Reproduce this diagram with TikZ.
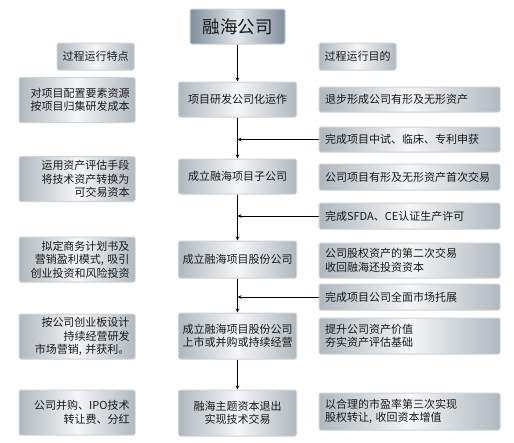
\documentclass[tikz,border=0pt]{standalone}
\usepackage{fontspec}
\newfontfamily\cjk{Noto Sans CJK SC}
\usetikzlibrary{arrows.meta}
\definecolor{boxedge}{RGB}{176,184,191}
\definecolor{boxmid}{RGB}{244,246,247}
\definecolor{boxline}{RGB}{205,211,216}
\definecolor{topedge}{RGB}{128,143,156}
\definecolor{topmid}{RGB}{226,231,235}
\tikzset{
  box/.style={draw=boxline, line width=1pt, rounded corners=1.5pt,
    left color=boxedge, right color=boxedge, middle color=boxmid,
    inner sep=0pt, font=\cjk\fontsize{11}{13.5}\selectfont, text=black!90},
  lbox/.style={box, minimum width=116pt, minimum height=45pt, align=right, text width=105pt},
  cbox/.style={box, minimum width=118pt, align=center},
  rbox/.style={box, minimum width=181pt, align=left, text width=169pt},
  hbox/.style={box, minimum width=77pt, minimum height=27pt},
  topbox/.style={draw=boxline, line width=1pt, rounded corners=1.5pt,
    left color=topedge, right color=topedge, middle color=topmid,
    minimum width=95pt, minimum height=35pt, inner sep=0pt,
    font=\cjk\fontsize{17.5}{20}\selectfont, text=black!90},
  arr/.style={-{Stealth[length=4pt,width=3.5pt]}, line width=0.8pt, black},
}
\begin{document}
\begin{tikzpicture}[x=1pt,y=-1pt]
\useasboundingbox[fill=white] (0,0) rectangle (514,442);
\node[topbox] (top) at (237.5,26.5) {融海公司};
\node[hbox] (hl) at (95.5,56.5) {过程运行特点};
\node[hbox] (hr) at (357.5,56.5) {过程运行目的};

\node[lbox] (l1) at (77,100) {对项目配置要素资源\\按项目归集研发成本};
\node[lbox] (l2) at (77,179) {运用资产评估手段\\将技术资产转换为\\可交易资本};
\node[lbox] (l3) at (77,259.5) {拟定商务计划书及\\营销盈利模式, 吸引\\创业投资和风险投资};
\node[lbox] (l4) at (77,336.5) {按公司创业板设计\\持续经营研发\\市场营销, 并获利。};
\node[lbox] (l5) at (77,412.5) {公司并购、IPO技术\\转让费、分红};

\node[cbox, minimum height=35pt] (c1) at (237.5,99.5) {项目研发公司化运作};
\node[cbox, minimum height=35pt] (c2) at (237.5,176.5) {成立融海项目子公司};
\node[cbox, minimum height=37pt] (c3) at (237.5,259.5) {成立融海项目股份公司};
\node[cbox, minimum height=46pt] (c4) at (237.5,336) {成立融海项目股份公司\\上市或并购或持续经营};
\node[cbox, minimum height=46pt] (c5) at (237.5,413) {融海主题资本退出\\实现技术交易};

\node[rbox, minimum height=25pt] (r1) at (409.5,99.5) {退步形成公司有形及无形资产};
\node[rbox, minimum height=25pt] (r2) at (409.5,139.5) {完成项目中试、临床、专利申获};
\node[rbox, minimum height=26pt] (r3) at (409.5,177) {公司项目有形及无形资产首次交易};
\node[rbox, minimum height=26pt] (r4) at (409.5,216) {完成SFDA、CE认证生产许可};
\node[rbox, minimum height=35pt] (r5) at (409.5,260.5) {公司股权资产的第二次交易\\收回融海还投资资本};
\node[rbox, minimum height=26pt] (r6) at (409.5,297) {完成项目公司全面市场托展};
\node[rbox, minimum height=36pt] (r7) at (409.5,336) {提升公司资产价值\\夯实资产评估基础};
\node[rbox, minimum height=37pt] (r8) at (409.5,411.5) {以合理的市盈率第三次实现\\股权转让, 收回资本增值};

\draw[arr] (top) -- (c1);
\draw[arr] (c1) -- (c2);
\draw[arr] (c2) -- (c3);
\draw[arr] (c3) -- (c4);
\draw[arr] (c4) -- (c5);
\draw[arr] (r2.west) -- (r2.west -| c1.south);
\draw[arr] (r4.west) -- (r4.west -| c2.south);
\draw[arr] (r6.west) -- (r6.west -| c3.south);
\end{tikzpicture}
\end{document}
